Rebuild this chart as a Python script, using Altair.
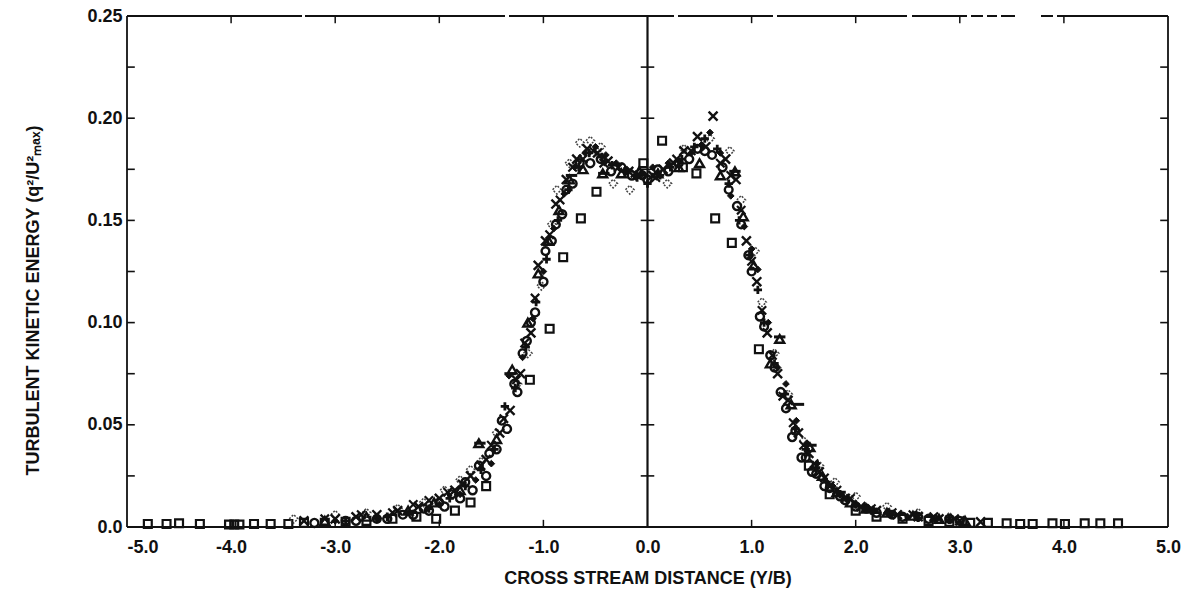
import altair as alt
import pandas as pd

# ---- measured profiles: cross-stream distance (Y/B) vs q^2/U^2max ----
SQ_X = [-4.80, -4.62, -4.50, -4.30, -4.02, -3.97, -3.92, -3.78, -3.62, -3.45, -3.30, -3.10,
        -2.90, -2.70, -2.45, -2.22, -2.03, -1.85, -1.70, -1.55, -1.13, -0.94, -0.81, -0.64,
        -0.49, -0.04, 0.14, 0.34, 0.47, 0.65, 0.81, 1.07, 1.55, 1.75, 2.00, 2.20, 2.45, 2.70,
        2.90, 3.10, 3.27, 3.45, 3.58, 3.70, 3.89, 4.01, 4.20, 4.35, 4.52]
SQ_Y = [0.0015, 0.0015, 0.0018, 0.0015, 0.0012, 0.0012, 0.0012, 0.0015, 0.0015, 0.0015, 0.002, 0.002,
        0.0025, 0.003, 0.004, 0.005, 0.004, 0.008, 0.012, 0.020, 0.072, 0.097, 0.132, 0.151,
        0.164, 0.178, 0.189, 0.176, 0.173, 0.151, 0.139, 0.087, 0.030, 0.016, 0.008, 0.005, 0.004, 0.003,
        0.0025, 0.002, 0.002, 0.0018, 0.0015, 0.0015, 0.0018, 0.0015, 0.0018, 0.0018, 0.0018]

XM_X = [-3.3, -3.0, -2.8, -2.6, -2.4, -2.2, -2.0, -1.85, -1.7, -1.55, -1.42, -1.32, -1.22, -1.12,
        -1.05, -0.98, -0.88, -0.78, -0.68, -0.58, -0.48, -0.38, -0.28, -0.18, -0.08, 0.05, 0.15,
        0.25, 0.35, 0.48, 0.63, 0.75, 0.85, 0.95, 1.05, 1.15, 1.25, 1.35, 1.45, 1.55, 1.65, 1.75,
        1.9, 2.05, 2.2, 2.4, 2.6, 2.8, 3.0, 3.2]
XM_Y = [0.003, 0.004, 0.005, 0.006, 0.008, 0.010, 0.014, 0.018, 0.025, 0.033, 0.046, 0.057, 0.075, 0.095,
        0.128, 0.140, 0.158, 0.170, 0.180, 0.185, 0.183, 0.179, 0.176, 0.174, 0.172, 0.172, 0.175,
        0.178, 0.184, 0.191, 0.201, 0.180, 0.170, 0.140, 0.120, 0.095, 0.075, 0.062, 0.046, 0.036, 0.027, 0.020,
        0.014, 0.010, 0.008, 0.006, 0.005, 0.004, 0.003, 0.0025]

XM2_X = [-3.1, -2.75, -2.45, -2.25, -2.1, -1.92, -1.78, -1.6, -1.5, -1.38, -1.26, -1.18, -1.08, -0.94,
         -0.84, -0.72, -0.62, -0.52, -0.42, -0.12, 0.08, 0.28, 0.42, 0.56, 0.7, 0.8, 0.9, 1.0, 1.1, 1.2,
         1.3, 1.4, 1.5, 1.6, 1.7, 1.82, 1.95, 2.15, 2.35, 2.55, 2.75, 2.95]
XM2_Y = [0.004, 0.006, 0.007, 0.011, 0.013, 0.017, 0.021, 0.030, 0.040, 0.053, 0.072, 0.090, 0.112, 0.143,
         0.160, 0.176, 0.180, 0.184, 0.178, 0.173, 0.171, 0.180, 0.184, 0.186, 0.178, 0.172, 0.155, 0.130, 0.106, 0.084,
         0.064, 0.051, 0.040, 0.031, 0.024, 0.018, 0.014, 0.009, 0.007, 0.006, 0.005, 0.004]

PL_X = [-2.9, -2.5, -2.1, -1.9, -1.75, -1.6, -1.47, -1.37, -1.27, -1.17, -1.07, -0.97, -0.86, -0.76,
        -0.66, -0.56, -0.44, -0.34, -0.22, -0.10, 0.0, 0.12, 0.22, 0.33, 0.45, 0.55, 0.67, 0.78, 0.88,
        0.98, 1.06, 1.12, 1.22, 1.32, 1.42, 1.52, 1.62, 1.72, 1.85, 2.0, 2.15, 2.35, 2.6, 2.9]
PL_Y = [0.003, 0.005, 0.009, 0.014, 0.020, 0.028, 0.038, 0.059, 0.068, 0.088, 0.110, 0.131, 0.150, 0.165,
        0.176, 0.183, 0.181, 0.177, 0.174, 0.171, 0.168, 0.172, 0.176, 0.180, 0.186, 0.190, 0.185, 0.168, 0.150,
        0.133, 0.116, 0.100, 0.080, 0.065, 0.048, 0.038, 0.029, 0.022, 0.016, 0.011, 0.008, 0.006, 0.0045, 0.0035]

TR_X = [-3.1, -2.7, -2.3, -2.05, -1.8, -1.62, -1.45, -1.3, -1.15, -1.05, -0.95, -0.85, -0.75, -0.62,
        -0.43, -0.25, -0.08, 0.1, 0.3, 0.5, 0.7, 0.84, 0.92, 1.02, 1.18, 1.27, 1.38, 1.56, 1.68, 1.82,
        1.95, 2.1, 2.3, 2.55, 2.8, 3.05]
TR_Y = [0.003, 0.005, 0.008, 0.012, 0.018, 0.041, 0.043, 0.077, 0.100, 0.124, 0.140, 0.155, 0.170, 0.175,
        0.173, 0.173, 0.174, 0.173, 0.176, 0.178, 0.172, 0.174, 0.152, 0.128, 0.080, 0.092, 0.060, 0.039, 0.025, 0.017,
        0.012, 0.009, 0.007, 0.0055, 0.004, 0.003]

CI_X = [-3.2, -2.8, -2.5, -2.25, -2.1, -1.95, -1.8, -1.68, -1.55, -1.45, -1.35, -1.25, -1.16, -1.08,
        -1.0, -0.92, -0.82, -0.72, -0.55, -0.35, -0.15, 0.0, 0.2, 0.4, 0.55, 0.72, 0.86, 0.97, 1.08,
        1.18, 1.28, 1.39, 1.48, 1.58, 1.7, 1.85, 2.0, 2.2, 2.45, 2.7, 3.0]
CI_Y = [0.002, 0.003, 0.004, 0.006, 0.008, 0.010, 0.014, 0.018, 0.025, 0.038, 0.048, 0.066, 0.091, 0.105,
        0.120, 0.140, 0.153, 0.168, 0.178, 0.174, 0.172, 0.170, 0.174, 0.180, 0.184, 0.176, 0.157, 0.133, 0.103,
        0.084, 0.066, 0.044, 0.034, 0.027, 0.020, 0.015, 0.010, 0.007, 0.005, 0.004, 0.003]

CI2_X = [-2.9, -2.6, -2.35, -2.15, -2.0, -1.88, -1.75, -1.62, -1.52, -1.4, -1.28, -1.2, -1.12, -0.98,
         -0.88, -0.78, -0.65, -0.45, -0.25, -0.05, 0.1, 0.3, 0.48, 0.62, 0.78, 0.9, 1.0, 1.12, 1.22,
         1.33, 1.42, 1.52, 1.62, 1.75, 1.9, 2.1, 2.35, 2.6, 2.9]
CI2_Y = [0.003, 0.004, 0.006, 0.009, 0.012, 0.016, 0.022, 0.030, 0.036, 0.052, 0.070, 0.085, 0.100, 0.135,
         0.148, 0.165, 0.178, 0.180, 0.176, 0.172, 0.175, 0.178, 0.185, 0.182, 0.165, 0.148, 0.125, 0.098, 0.078,
         0.058, 0.047, 0.034, 0.026, 0.019, 0.013, 0.009, 0.006, 0.005, 0.004]

DI_X = [-3.4, -3.0, -2.7, -2.4, -2.15, -1.95, -1.8, -1.7, -1.6, -1.45, -1.25, -1.15, -1.02, -0.92,
        -0.87, -0.75, -0.65, -0.55, -0.45, -0.33, -0.17, 0.19, 0.35, 0.6, 0.79, 0.9, 1.03, 1.1, 1.22,
        1.35, 1.5, 1.65, 1.8, 2.0, 2.3, 2.6, 2.9]
DI_Y = [0.004, 0.006, 0.007, 0.009, 0.012, 0.018, 0.023, 0.028, 0.032, 0.046, 0.070, 0.085, 0.118, 0.148,
        0.165, 0.178, 0.188, 0.189, 0.186, 0.168, 0.165, 0.168, 0.185, 0.190, 0.184, 0.160, 0.135, 0.110, 0.085,
        0.065, 0.042, 0.030, 0.022, 0.015, 0.010, 0.007, 0.005]

# small filled diamonds and dashes of the remaining traverses
FD_X = [-3.0, -2.6, -2.3, -2.0, -1.8, -1.65, -1.5, -1.33, -1.2, -1.1, -1.0, -0.9, -0.8, -0.7, -0.6,
        -0.5, -0.4, -0.3, -0.2, -0.05, 0.05, 0.2, 0.3, 0.42, 0.52, 0.6, 0.7, 0.8, 0.93, 1.0, 1.06, 1.16,
        1.25, 1.33, 1.43, 1.53, 1.63, 1.78, 1.92, 2.1, 2.3, 2.5, 2.75]
FD_Y = [0.003, 0.004, 0.007, 0.011, 0.016, 0.023, 0.031, 0.074, 0.083, 0.102, 0.125, 0.146, 0.163, 0.176, 0.183,
        0.186, 0.182, 0.178, 0.175, 0.173, 0.176, 0.178, 0.179, 0.183, 0.187, 0.193, 0.183, 0.162, 0.147, 0.136, 0.126, 0.100,
        0.078, 0.070, 0.052, 0.041, 0.031, 0.020, 0.013, 0.009, 0.007, 0.005, 0.004]
DA_X = [-1.61, -1.32, -0.73, -0.42, 0.84, 1.27, 1.45, 1.57, 1.85]
DA_Y = [0.041, 0.075, 0.172, 0.173, 0.174, 0.093, 0.060, 0.040, 0.017]

X_LABELS = [-5, -4, -3, -2, -1, 0, 1, 2, 3, 4, 5]
Y_LABELS = [0.0, 0.05, 0.10, 0.15, 0.20, 0.25]
X_MINOR = [-4, -3, -2, -1, 1, 2, 3, 4]
Y_MINOR = [0.025, 0.05, 0.075, 0.10, 0.125, 0.15, 0.175, 0.20, 0.225]

FONT = "Liberation Sans"
INK = "#111111"

xs = alt.Scale(domain=[-5, 5], nice=False, zero=False)
ys = alt.Scale(domain=[0, 0.25], nice=False, zero=False)

x_axis = alt.Axis(
    values=X_LABELS,
    labelExpr="(datum.value < 0 ? '-' : '') + format(abs(datum.value), '.1f')",
    ticks=False, tickSize=0, domain=False, grid=False,
    labelFont=FONT, labelFontSize=18, labelFontWeight="bold", labelColor=INK,
    labelBaseline="alphabetic", labelPadding=25, labelFlush=False,
    labelAlign={"condition": {"test": "datum.value == -5", "value": "left"}, "value": "center"},
    title="CROSS STREAM DISTANCE (Y/B)",
    titleFont=FONT, titleFontSize=18, titleFontWeight="bold", titleColor=INK,
    titleBaseline="alphabetic", titleY=56,
)
y_axis = alt.Axis(
    values=Y_LABELS,
    labelExpr="datum.value == 0 ? '0.0' : format(datum.value, '.2f')",
    ticks=False, tickSize=0, domain=False, grid=False,
    labelFont=FONT, labelFontSize=18, labelFontWeight="bold", labelColor=INK,
    labelPadding=5,
    title="TURBULENT KINETIC ENERGY (q²/U²ₘₐₓ)",
    titleFont=FONT, titleFontSize=18, titleFontWeight="bold", titleColor=INK,
    titleBaseline="alphabetic", titleX=-89, titleY=284,
)


def X(field):
    return alt.X(field, type="quantitative", scale=xs, axis=x_axis)


def Y(field):
    return alt.Y(field, type="quantitative", scale=ys, axis=y_axis)


def series(xv, yv, mark):
    df = pd.DataFrame({"x": xv, "y": yv})
    return alt.Chart(df).mark_point(**mark).encode(x=X("x"), y=Y("y"))


X_PATH = "M-1,-1L1,1M1,-1L-1,1"
PLUS_PATH = "M-1,0L1,0M0,-1L0,1"
DASH_PATH = "M-1,0L1,0"

squares = series(SQ_X, SQ_Y, dict(shape="square", filled=False, size=62, stroke=INK, strokeWidth=2.2, opacity=1))
crosses = series(XM_X, XM_Y, dict(shape=X_PATH, filled=False, size=80, stroke=INK, strokeWidth=2.4, opacity=1))
crosses2 = series(XM2_X, XM2_Y, dict(shape=X_PATH, filled=False, size=70, stroke=INK, strokeWidth=2.2, opacity=1))
pluses = series(PL_X, PL_Y, dict(shape=PLUS_PATH, filled=False, size=70, stroke=INK, strokeWidth=2.8, opacity=1))
triangles = series(TR_X, TR_Y, dict(shape="triangle-up", filled=False, size=80, stroke=INK, strokeWidth=2.4, opacity=1))
circles = series(CI_X, CI_Y, dict(shape="circle", filled=False, size=65, stroke=INK, strokeWidth=2.4, opacity=1))
circles2 = series(CI2_X, CI2_Y, dict(shape="circle", filled=False, size=60, stroke=INK, strokeWidth=2.4, opacity=1))
diamonds = series(DI_X, DI_Y, dict(shape="diamond", filled=False, size=75, stroke="#444444", strokeWidth=1.5,
                                   strokeDash=[2, 1.5], opacity=1))
fdiamonds = series(FD_X, FD_Y, dict(shape="diamond", filled=True, size=45, fill=INK, stroke=INK,
                                    strokeWidth=1, opacity=1))
dashes = series(DA_X, DA_Y, dict(shape=DASH_PATH, filled=False, size=130, stroke=INK, strokeWidth=3, opacity=1))

# ---- frame, centre line and inward ticks ----
frame_v = alt.Chart(pd.DataFrame({"x": [-5, 5, 0], "y0": [0, 0, 0], "y1": [0.25, 0.25, 0.25],
                                  "w": [1.8, 1.8, 2.2]})).mark_rule(color=INK).encode(
    x=X("x"), y=Y("y0"), y2="y1:Q",
    strokeWidth=alt.StrokeWidth("w:Q", scale=None, legend=None),
)
bottom = alt.Chart(pd.DataFrame({"x0": [-5], "x1": [5], "y": [0]})).mark_rule(color=INK, strokeWidth=2.2).encode(
    x=X("x0"), x2="x1:Q", y=Y("y"),
)
top = alt.Chart(pd.DataFrame({"x0": [-5], "x1": [5], "y": [0.25]})).mark_rule(
    color=INK, strokeWidth=1.8,
    strokeDash=[175, 3, 200, 4, 165, 4, 95, 4, 130, 5, 55, 4, 12, 4, 10, 4, 14, 26, 12, 4, 150],
).encode(x=X("x0"), x2="x1:Q", y=Y("y"))

xt = pd.DataFrame({"x": X_MINOR})
bottom_ticks = alt.Chart(xt).transform_calculate(a="0", b="0.0035").mark_rule(color=INK, strokeWidth=1.5).encode(
    x=X("x"), y=Y("a"), y2="b:Q")
top_ticks = alt.Chart(xt).transform_calculate(a="0.25", b="0.2465").mark_rule(color=INK, strokeWidth=1.5).encode(
    x=X("x"), y=Y("a"), y2="b:Q")

yt = pd.DataFrame({"y": Y_MINOR})
left_ticks = alt.Chart(yt).transform_calculate(a="-5", b="-4.925").mark_rule(color=INK, strokeWidth=1.6).encode(
    y=Y("y"), x=X("a"), x2="b:Q")
right_ticks = alt.Chart(yt).transform_calculate(a="5", b="4.925").mark_rule(color=INK, strokeWidth=1.6).encode(
    y=Y("y"), x=X("a"), x2="b:Q")
centre_ticks = alt.Chart(yt).transform_calculate(a="-0.065", b="0.065").mark_rule(color=INK, strokeWidth=1.6).encode(
    y=Y("y"), x=X("a"), x2="b:Q")

chart = alt.layer(
    squares, frame_v, bottom, top, bottom_ticks, top_ticks, left_ticks, right_ticks, centre_ticks,
    diamonds, circles, circles2, triangles, fdiamonds, pluses, crosses, crosses2, dashes,
).properties(
    width=1041, height=511,
    autosize=alt.AutoSizeParams(type="none"),
    padding={"left": 127, "top": 16, "right": 19, "bottom": 64},
    background="white",
).configure_view(stroke=None)

chart.save("out.html", embed_options={"renderer": "svg", "actions": False})
